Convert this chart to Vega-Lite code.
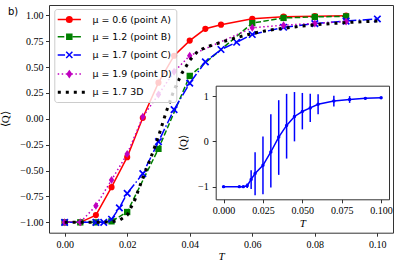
{
  "$schema": "https://vega.github.io/schema/vega-lite/v6.json",
  "width": 344,
  "height": 227.7,
  "autosize": "none",
  "padding": {"left": 49, "top": 5, "right": 5, "bottom": 31.3},
  "title": {"text": "b)", "anchor": "start", "frame": "group", "dx": -41, "dy": 17, "offset": 0, "baseline": "middle", "font": "DejaVu Sans", "fontSize": 10, "fontWeight": "normal", "color": "#000"},
  "datasets": {
    "main": [
      {"series": "μ = 0.6 (point A)", "T": 0, "Q": -1.0},
      {"series": "μ = 0.6 (point A)", "T": 0.005, "Q": -1.0},
      {"series": "μ = 0.6 (point A)", "T": 0.01, "Q": -0.93},
      {"series": "μ = 0.6 (point A)", "T": 0.015, "Q": -0.66},
      {"series": "μ = 0.6 (point A)", "T": 0.02, "Q": -0.37},
      {"series": "μ = 0.6 (point A)", "T": 0.025, "Q": 0.01},
      {"series": "μ = 0.6 (point A)", "T": 0.03, "Q": 0.35},
      {"series": "μ = 0.6 (point A)", "T": 0.035, "Q": 0.61},
      {"series": "μ = 0.6 (point A)", "T": 0.04, "Q": 0.756},
      {"series": "μ = 0.6 (point A)", "T": 0.045, "Q": 0.87},
      {"series": "μ = 0.6 (point A)", "T": 0.05, "Q": 0.91},
      {"series": "μ = 0.6 (point A)", "T": 0.06, "Q": 0.967},
      {"series": "μ = 0.6 (point A)", "T": 0.07, "Q": 0.987},
      {"series": "μ = 0.6 (point A)", "T": 0.08, "Q": 0.992},
      {"series": "μ = 0.6 (point A)", "T": 0.09, "Q": 0.997},
      {"series": "μ = 1.2 (point B)", "T": 0, "Q": -1.0},
      {"series": "μ = 1.2 (point B)", "T": 0.005, "Q": -1.0},
      {"series": "μ = 1.2 (point B)", "T": 0.01, "Q": -1.0},
      {"series": "μ = 1.2 (point B)", "T": 0.015, "Q": -0.99},
      {"series": "μ = 1.2 (point B)", "T": 0.02, "Q": -0.9},
      {"series": "μ = 1.2 (point B)", "T": 0.03, "Q": -0.29},
      {"series": "μ = 1.2 (point B)", "T": 0.04, "Q": 0.415},
      {"series": "μ = 1.2 (point B)", "T": 0.06, "Q": 0.925},
      {"series": "μ = 1.2 (point B)", "T": 0.07, "Q": 0.975},
      {"series": "μ = 1.2 (point B)", "T": 0.08, "Q": 0.985},
      {"series": "μ = 1.2 (point B)", "T": 0.09, "Q": 0.99},
      {"series": "μ = 1.7 (point C)", "T": 0, "Q": -1.0},
      {"series": "μ = 1.7 (point C)", "T": 0.01, "Q": -1.0},
      {"series": "μ = 1.7 (point C)", "T": 0.0125, "Q": -1.0},
      {"series": "μ = 1.7 (point C)", "T": 0.015, "Q": -0.97},
      {"series": "μ = 1.7 (point C)", "T": 0.0175, "Q": -0.86},
      {"series": "μ = 1.7 (point C)", "T": 0.02, "Q": -0.72},
      {"series": "μ = 1.7 (point C)", "T": 0.025, "Q": -0.53},
      {"series": "μ = 1.7 (point C)", "T": 0.03, "Q": -0.22},
      {"series": "μ = 1.7 (point C)", "T": 0.035, "Q": 0.09},
      {"series": "μ = 1.7 (point C)", "T": 0.04, "Q": 0.345},
      {"series": "μ = 1.7 (point C)", "T": 0.045, "Q": 0.55},
      {"series": "μ = 1.7 (point C)", "T": 0.05, "Q": 0.67},
      {"series": "μ = 1.7 (point C)", "T": 0.055, "Q": 0.74},
      {"series": "μ = 1.7 (point C)", "T": 0.06, "Q": 0.815},
      {"series": "μ = 1.7 (point C)", "T": 0.07, "Q": 0.885},
      {"series": "μ = 1.7 (point C)", "T": 0.08, "Q": 0.92},
      {"series": "μ = 1.7 (point C)", "T": 0.09, "Q": 0.945},
      {"series": "μ = 1.7 (point C)", "T": 0.1, "Q": 0.965},
      {"series": "μ = 1.9 (point D)", "T": 0, "Q": -1.0},
      {"series": "μ = 1.9 (point D)", "T": 0.005, "Q": -1.0},
      {"series": "μ = 1.9 (point D)", "T": 0.01, "Q": -0.84},
      {"series": "μ = 1.9 (point D)", "T": 0.015, "Q": -0.59},
      {"series": "μ = 1.9 (point D)", "T": 0.02, "Q": -0.34},
      {"series": "μ = 1.9 (point D)", "T": 0.025, "Q": 0.02},
      {"series": "μ = 1.9 (point D)", "T": 0.03, "Q": 0.235},
      {"series": "μ = 1.9 (point D)", "T": 0.035, "Q": 0.455},
      {"series": "μ = 1.9 (point D)", "T": 0.04, "Q": 0.61},
      {"series": "μ = 1.9 (point D)", "T": 0.06, "Q": 0.88},
      {"series": "μ = 1.9 (point D)", "T": 0.07, "Q": 0.905},
      {"series": "μ = 1.9 (point D)", "T": 0.08, "Q": 0.922},
      {"series": "μ = 1.9 (point D)", "T": 0.09, "Q": 0.94},
      {"series": "μ = 1.7 3D", "T": 0, "Q": -1.0},
      {"series": "μ = 1.7 3D", "T": 0.005, "Q": -1.0},
      {"series": "μ = 1.7 3D", "T": 0.01, "Q": -1.0},
      {"series": "μ = 1.7 3D", "T": 0.015, "Q": -0.995},
      {"series": "μ = 1.7 3D", "T": 0.0175, "Q": -0.98},
      {"series": "μ = 1.7 3D", "T": 0.02, "Q": -0.93},
      {"series": "μ = 1.7 3D", "T": 0.0225, "Q": -0.78},
      {"series": "μ = 1.7 3D", "T": 0.025, "Q": -0.57},
      {"series": "μ = 1.7 3D", "T": 0.0275, "Q": -0.38},
      {"series": "μ = 1.7 3D", "T": 0.03, "Q": -0.17},
      {"series": "μ = 1.7 3D", "T": 0.0325, "Q": 0.07},
      {"series": "μ = 1.7 3D", "T": 0.035, "Q": 0.28},
      {"series": "μ = 1.7 3D", "T": 0.0375, "Q": 0.44},
      {"series": "μ = 1.7 3D", "T": 0.04, "Q": 0.565},
      {"series": "μ = 1.7 3D", "T": 0.0425, "Q": 0.65},
      {"series": "μ = 1.7 3D", "T": 0.045, "Q": 0.69},
      {"series": "μ = 1.7 3D", "T": 0.05, "Q": 0.74},
      {"series": "μ = 1.7 3D", "T": 0.055, "Q": 0.785},
      {"series": "μ = 1.7 3D", "T": 0.06, "Q": 0.825},
      {"series": "μ = 1.7 3D", "T": 0.065, "Q": 0.855},
      {"series": "μ = 1.7 3D", "T": 0.07, "Q": 0.875},
      {"series": "μ = 1.7 3D", "T": 0.075, "Q": 0.893},
      {"series": "μ = 1.7 3D", "T": 0.08, "Q": 0.908},
      {"series": "μ = 1.7 3D", "T": 0.085, "Q": 0.92},
      {"series": "μ = 1.7 3D", "T": 0.09, "Q": 0.93},
      {"series": "μ = 1.7 3D", "T": 0.095, "Q": 0.938},
      {"series": "μ = 1.7 3D", "T": 0.1, "Q": 0.945}
    ],
    "inset": [
      {"T": 0, "Q": -1.0, "lo": -1.0, "hi": -1.0},
      {"T": 0.01, "Q": -1.0, "lo": -1.0, "hi": -1.0},
      {"T": 0.0125, "Q": -1.0, "lo": -1.0, "hi": -1.0},
      {"T": 0.015, "Q": -0.98, "lo": -1.03, "hi": -0.93},
      {"T": 0.0175, "Q": -0.84, "lo": -1.05, "hi": -0.64},
      {"T": 0.02, "Q": -0.71, "lo": -1.19, "hi": -0.24},
      {"T": 0.025, "Q": -0.53, "lo": -1.17, "hi": 0.11},
      {"T": 0.03, "Q": -0.235, "lo": -1.02, "hi": 0.6},
      {"T": 0.035, "Q": 0.095, "lo": -0.74, "hi": 0.91},
      {"T": 0.04, "Q": 0.353, "lo": -0.38, "hi": 1.05},
      {"T": 0.045, "Q": 0.55, "lo": 0.0, "hi": 1.09},
      {"T": 0.05, "Q": 0.66, "lo": 0.265, "hi": 1.07},
      {"T": 0.055, "Q": 0.74, "lo": 0.43, "hi": 1.05},
      {"T": 0.06, "Q": 0.82, "lo": 0.6, "hi": 1.04},
      {"T": 0.07, "Q": 0.89, "lo": 0.77, "hi": 1.01},
      {"T": 0.08, "Q": 0.927, "lo": 0.85, "hi": 1.0},
      {"T": 0.09, "Q": 0.95, "lo": 0.92, "hi": 0.98},
      {"T": 0.1, "Q": 0.965, "lo": 0.95, "hi": 0.98}
    ]
  },
  "layer": [
    {
      "data": {"name": "main"},
      "encoding": {
        "x": {"field": "T", "type": "quantitative", "scale": {"domain": [-0.005, 0.105], "nice": false, "zero": false},
          "axis": {"values": [0, 0.02, 0.04, 0.06, 0.08, 0.1], "format": ".2f", "title": "T", "titleFontStyle": "italic", "labelPadding": 3.5, "titlePadding": 1}},
        "y": {"field": "Q", "type": "quantitative", "scale": {"domain": [-1.1, 1.1], "nice": false, "zero": false},
          "axis": {"values": [-1, -0.75, -0.5, -0.25, 0, 0.25, 0.5, 0.75, 1], "format": ".2f", "labelExpr": "replace(datum.label, '-', '−')", "title": "⟨Q⟩", "labelPadding": 2.5, "titlePadding": 9}}
      },
      "layer": [
        {"transform": [{"filter": {"field": "series", "equal": "μ = 0.6 (point A)"}}], "mark": {"type": "line", "color": "#ff0000", "strokeWidth": 1.5}},
        {"transform": [{"filter": {"field": "series", "equal": "μ = 0.6 (point A)"}}], "mark": {"type": "point", "shape": "circle", "filled": true, "opacity": 1, "color": "#ff0000", "size": 38}},
        {"transform": [{"filter": {"field": "series", "equal": "μ = 1.2 (point B)"}}], "mark": {"type": "line", "color": "#008000", "strokeWidth": 1.5, "strokeDash": [5.5, 2.4]}},
        {"transform": [{"filter": {"field": "series", "equal": "μ = 1.2 (point B)"}}], "mark": {"type": "point", "shape": "square", "filled": true, "opacity": 1, "color": "#008000", "size": 40}},
        {"transform": [{"filter": {"field": "series", "equal": "μ = 1.7 (point C)"}}], "mark": {"type": "line", "color": "#0000ff", "strokeWidth": 1.5, "strokeDash": [9.6, 2.4, 1.5, 2.4]}},
        {"transform": [{"filter": {"field": "series", "equal": "μ = 1.7 (point C)"}}], "mark": {"type": "point", "shape": "M-1,-1L1,1M-1,1L1,-1", "filled": false, "opacity": 1, "color": "#0000ff", "strokeWidth": 1.7, "size": 42}},
        {"transform": [{"filter": {"field": "series", "equal": "μ = 1.9 (point D)"}}], "mark": {"type": "line", "color": "#bf00bf", "strokeWidth": 1.5, "strokeDash": [1.5, 2.5]}},
        {"transform": [{"filter": {"field": "series", "equal": "μ = 1.9 (point D)"}}], "mark": {"type": "point", "shape": "M0,-1L0.68,0L0,1L-0.68,0Z", "filled": true, "opacity": 1, "color": "#bf00bf", "size": 64}},
        {"transform": [{"filter": {"field": "series", "equal": "μ = 1.7 3D"}}], "mark": {"type": "line", "color": "#000000", "strokeWidth": 3, "strokeDash": [3, 5]}},
        {
          "mark": {"type": "point", "filled": false, "opacity": 0},
          "encoding": {
            "color": {"field": "series", "type": "nominal",
              "scale": {"domain": ["μ = 0.6 (point A)", "μ = 1.2 (point B)", "μ = 1.7 (point C)", "μ = 1.9 (point D)", "μ = 1.7 3D"], "range": ["#ff0000", "#008000", "#0000ff", "#bf00bf", "#000000"]},
              "legend": {"orient": "none", "legendX": 5.3, "legendY": 4, "title": null, "symbolSize": 100, "symbolStrokeWidth": 1.5, "symbolOpacity": 1, "symbolOffset": 4.5, "labelOffset": 17.2, "labelFont": "DejaVu Sans", "labelFontSize": 9.4, "labelColor": "#000", "padding": 4.5, "rowPadding": 5.2, "strokeColor": "#cccccc", "fillColor": "rgba(255,255,255,0.8)", "cornerRadius": 2.5, "labelLimit": 300}},
            "shape": {"field": "series", "type": "nominal",
              "scale": {"domain": ["μ = 0.6 (point A)", "μ = 1.2 (point B)", "μ = 1.7 (point C)", "μ = 1.9 (point D)", "μ = 1.7 3D"],
                "range": [
                  "M-2.32,0H2.32M0.15,0A0.15,0.15,0,1,1,-0.15,0A0.15,0.15,0,1,1,0.15,0M0.4,0A0.4,0.4,0,1,1,-0.4,0A0.4,0.4,0,1,1,0.4,0M0.55,0A0.55,0.55,0,1,1,-0.55,0A0.55,0.55,0,1,1,0.55,0",
                  "M-2.32,0H-1.0M-0.5,0H0.5M0.68,0H2.32M-0.15,-0.15H0.15V0.15H-0.15ZM-0.35,-0.35H0.35V0.35H-0.35ZM-0.5,-0.5H0.5V0.5H-0.5Z",
                  "M-2.32,0H-0.85M0.85,0H2.32M-0.62,-0.62L0.62,0.62M-0.62,0.62L0.62,-0.62",
                  "M-2.32,0H-2.02M-1.52,0H-1.22M-0.72,0H-0.42M0.42,0H0.72M1.22,0H1.52M2.02,0H2.32M0,-0.62L0.42,0L0,0.62L-0.42,0ZM0,-0.36L0.24,0L0,0.36L-0.24,0ZM0,-0.12L0.08,0L0,0.12L-0.08,0Z",
                  "M-2.3,-0.15H-1.7M-2.3,0.15H-1.7M-0.7,-0.15H-0.1M-0.7,0.15H-0.1M0.9,-0.15H1.5M0.9,0.15H1.5M2.5,-0.15H3.1M2.5,0.15H3.1"
                ]},
              "legend": {"orient": "none", "legendX": 5.3, "legendY": 4, "title": null, "symbolSize": 100, "symbolStrokeWidth": 1.5, "symbolOpacity": 1, "symbolOffset": 4.5, "labelOffset": 17.2, "labelFont": "DejaVu Sans", "labelFontSize": 9.4, "labelColor": "#000", "padding": 4.5, "rowPadding": 5.2, "strokeColor": "#cccccc", "fillColor": "rgba(255,255,255,0.8)", "cornerRadius": 2.5, "labelLimit": 300}}
          }
        }
      ]
    },
    {
      "data": {"name": "inset"},
      "encoding": {
        "x": {"field": "T", "type": "quantitative", "scale": {"domain": [-0.005, 0.105], "range": [166.7, 340], "nice": false, "zero": false},
          "axis": {"orient": "bottom", "offset": -33.4, "values": [0, 0.025, 0.05, 0.075, 0.1], "format": ".3f", "title": "T", "titleFontStyle": "italic", "labelPadding": 3, "titlePadding": 2, "domain": true, "domainColor": "#333333", "domainWidth": 1}},
        "y": {"field": "Q", "type": "quantitative", "scale": {"domain": [-1.28, 1.23], "range": [194.3, 80.7], "nice": false, "zero": false},
          "axis": {"orient": "left", "offset": -166.7, "values": [-1, 0, 1], "format": "d", "labelExpr": "replace(datum.label, '-', '−')", "title": "⟨Q⟩", "labelPadding": 4, "titlePadding": 9, "domain": true, "domainColor": "#333333", "domainWidth": 1}}
      },
      "layer": [
        {
          "mark": {"type": "rule", "color": "#0000ff", "strokeWidth": 1.5},
          "encoding": {
            "y": {"field": "lo", "type": "quantitative"},
            "y2": {"field": "hi"}
          }
        },
        {"mark": {"type": "line", "color": "#0000ff", "strokeWidth": 1.5}},
        {"mark": {"type": "point", "shape": "circle", "filled": true, "opacity": 1, "color": "#0000ff", "size": 12}}
      ]
    },
    {
      "data": {"name": "inset"},
      "mark": {"type": "point", "opacity": 0},
      "encoding": {
        "x": {"field": "T", "type": "quantitative", "scale": {"domain": [-0.005, 0.105], "range": [166.7, 340], "nice": false, "zero": false},
          "axis": {"orient": "top", "offset": -80.7, "values": [], "labels": false, "ticks": false, "title": null, "domain": true, "domainColor": "#333333", "domainWidth": 1}},
        "y": {"field": "Q", "type": "quantitative", "scale": {"domain": [-1.28, 1.23], "range": [194.3, 80.7], "nice": false, "zero": false},
          "axis": {"orient": "right", "offset": -4, "values": [], "labels": false, "ticks": false, "title": null, "domain": true, "domainColor": "#333333", "domainWidth": 1}}
      }
    }
  ],
  "resolve": {"scale": {"x": "independent", "y": "independent"}, "axis": {"x": "independent", "y": "independent"}},
  "config": {
    "view": {"stroke": "#333333", "strokeWidth": 1},
    "axis": {"grid": false, "domain": false, "tickColor": "#333333", "tickSize": 3.5, "tickWidth": 1, "labelFont": "Liberation Serif", "labelFontSize": 10, "labelColor": "#000000", "labelFlush": false, "labelOverlap": false, "titleFont": "Liberation Serif", "titleFontSize": 11, "titleFontWeight": "normal", "titleColor": "#000000"}
  }
}
